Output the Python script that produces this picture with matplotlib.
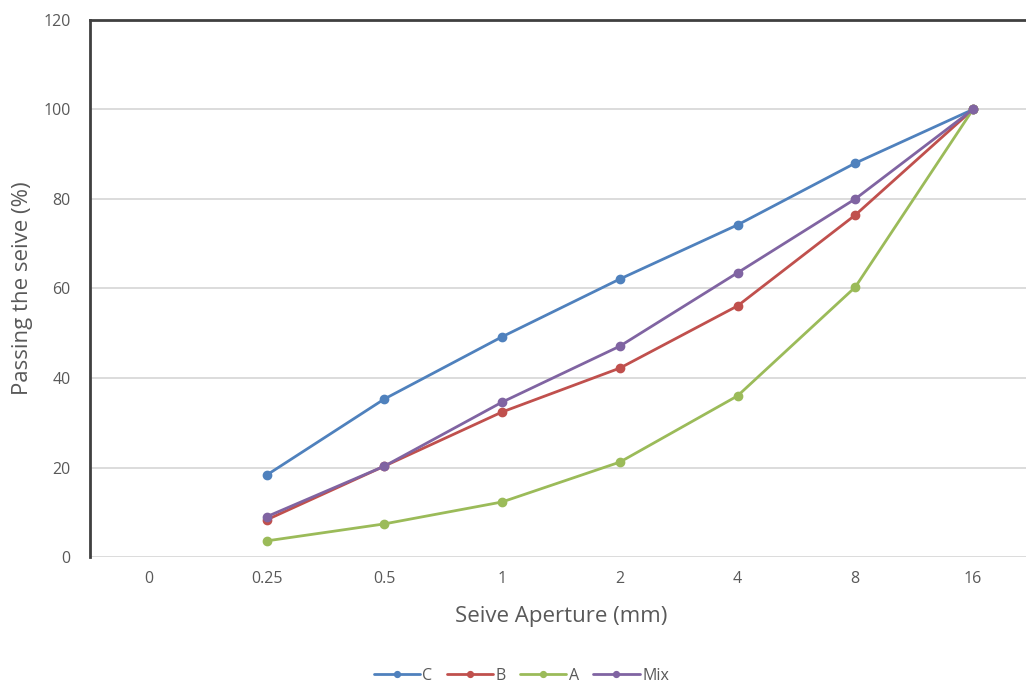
import matplotlib
matplotlib.use("Agg")
import matplotlib.pyplot as plt

# Sieve apertures (categorical axis) and percent passing for each grading
apertures = ["0", "0.25", "0.5", "1", "2", "4", "8", "16"]
c_pass = [None, 18.3, 35.3, 49.2, 62.1, 74.2, 88.0, 100.0]
b_pass = [None, 8.3, 20.3, 32.4, 42.2, 56.1, 76.4, 100.0]
a_pass = [None, 3.6, 7.4, 12.3, 21.2, 36.0, 60.3, 100.0]
mix_pass = [None, 9.0, 20.3, 34.6, 47.1, 63.5, 80.0, 100.0]

series = [
    ("C", c_pass, "#4F81BD"),
    ("B", b_pass, "#C0504D"),
    ("A", a_pass, "#9BBB59"),
    ("Mix", mix_pass, "#8064A2"),
]

plt.rcParams["font.family"] = ["Open Sans", "DejaVu Sans"]

fig = plt.figure(figsize=(10.26, 6.86), dpi=100)
ax = fig.add_axes([0.0877, 0.188, 0.918, 0.783])

for name, vals, color in series:
    xs = [i for i, v in enumerate(vals) if v is not None]
    ys = [v for v in vals if v is not None]
    ax.plot(xs, ys, color=color, lw=2.0, marker="o", ms=6,
            label=name, solid_capstyle="round")

ax.set_xlim(-0.5, len(apertures) - 0.5)
ax.set_ylim(0, 120)
ax.set_xticks(range(len(apertures)))
ax.set_xticklabels(apertures)
ax.set_yticks(range(0, 121, 20))

ax.grid(axis="y", color="#d9d9d9", lw=1.3)
ax.set_axisbelow(True)
ax.tick_params(length=0, labelsize=11.5, labelcolor="#595959", pad=14)
ax.tick_params(axis="x", pad=10)

for side in ("right", "bottom"):
    ax.spines[side].set_visible(False)
for side in ("left", "top"):
    ax.spines[side].set_color("#404040")
    ax.spines[side].set_linewidth(2.0)

ax.set_xlabel("Seive Aperture (mm)", fontsize=16, color="#595959", labelpad=14)
ax.set_ylabel("Passing the seive (%)", fontsize=16, color="#595959", labelpad=7)

leg = fig.legend(loc="center", bbox_to_anchor=(0.508, 0.015), ncol=4,
                 frameon=False, fontsize=11.5, handlelength=2.9,
                 columnspacing=0.9, handletextpad=0.15, markerscale=0.7)
for t in leg.get_texts():
    t.set_color("#595959")

fig.savefig("out.png", dpi=100)
